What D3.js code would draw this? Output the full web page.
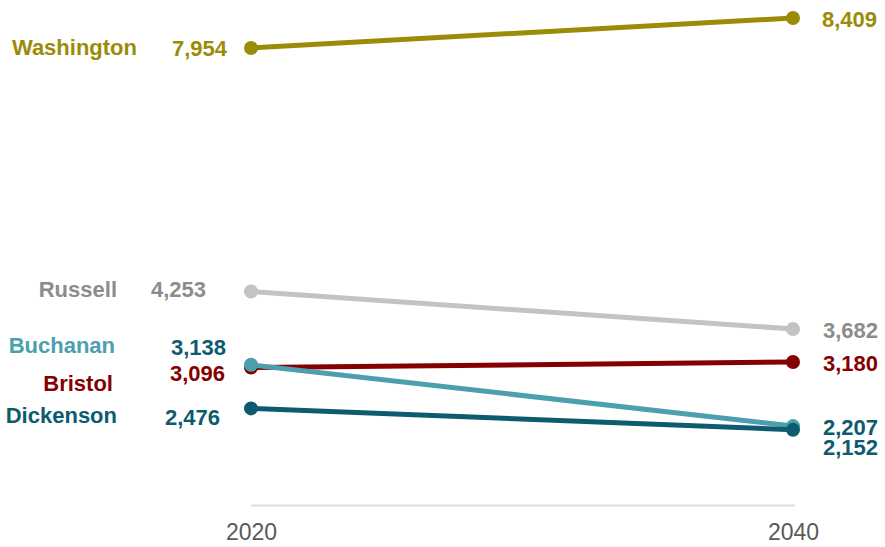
<!DOCTYPE html>
<html>
<head>
<meta charset="utf-8">
<script src="https://cdn.jsdelivr.net/npm/d3@7"></script>
<style>
  html, body { margin: 0; padding: 0; background: #fff; }
  svg { display: block; font-family: "Liberation Sans", Arial, sans-serif; }
</style>
</head>
<body>
<svg id="chart" width="885" height="547"></svg>
<script>
// ---- data ----
const years = ["2020", "2040"];
const counties = ["Russell", "Bristol", "Buchanan", "Dickenson", "Washington"];
const values2020 = [4253, 3096, 3138, 2476, 7954];
const values2040 = [3682, 3180, 2207, 2152, 8409];

// ---- styling ----
const lineColors  = { Russell: "#c3c3c3", Bristol: "#850000", Buchanan: "#4b9fae", Dickenson: "#0d5b6f", Washington: "#9a8c07" };
const nameColors  = { Russell: "#8c8c8c", Bristol: "#850000", Buchanan: "#4b9fae", Dickenson: "#0d5b6f", Washington: "#9a8c07" };
const valueColors = { Russell: "#8c8c8c", Bristol: "#850000", Buchanan: "#0d5b6f", Dickenson: "#0d5b6f", Washington: "#9a8c07" };
// label layout: [name dx, name baseline dy, left value dx, left value dy, right value dx, right value dy]
const labelLayout = {
  Washington: [-114, 7, -24, 8, 29, 9],
  Russell:    [-134, 6, -45, 6, 30, 9],
  Buchanan:   [-136, -11.5, -25, -9.5, 30, 9],
  Bristol:    [-138, 23, -26, 13, 30, 9],
  Dickenson:  [-134, 15, -31, 17, 30, 25]
};

const svg = d3.select("#chart");
const x = d3.scalePoint().domain(years).range([251, 793]);
const y = d3.scaleLinear().domain([1000, 8500]).range([505.5, 12]);

// baseline axis
svg.append("line")
  .attr("x1", x(years[0])).attr("x2", x(years[1]) + 2)
  .attr("y1", y(1000)).attr("y2", y(1000))
  .attr("stroke", "#dddddd").attr("stroke-width", 2);

const xAxis = svg.append("g")
  .attr("transform", `translate(0,${y(1000)})`)
  .call(d3.axisBottom(x).tickSize(0).tickPadding(22));
xAxis.select(".domain").remove();
xAxis.selectAll("text")
  .attr("font-family", "'Liberation Sans', Arial, sans-serif")
  .attr("font-size", 23)
  .attr("fill", "#595959")
  .attr("dy", "0.55em");

const fmt = d3.format(",");
const series = counties.map((c, i) => ({ name: c, v: [values2020[i], values2040[i]] }));

const g = svg.append("g");
series.forEach(s => {
  const grp = g.append("g");
  grp.append("line")
    .attr("x1", x(years[0])).attr("y1", y(s.v[0]))
    .attr("x2", x(years[1])).attr("y2", y(s.v[1]))
    .attr("stroke", lineColors[s.name]).attr("stroke-width", 5);
  grp.selectAll("circle").data(s.v).join("circle")
    .attr("cx", (d, i) => x(years[i]))
    .attr("cy", d => y(d))
    .attr("r", 7)
    .attr("fill", lineColors[s.name]);
});

const labels = svg.append("g").attr("font-weight", "bold").attr("font-size", 22);
series.forEach(s => {
  const L = labelLayout[s.name];
  labels.append("text")
    .attr("x", x(years[0]) + L[0]).attr("y", y(s.v[0]) + L[1])
    .attr("text-anchor", "end").attr("fill", nameColors[s.name])
    .text(s.name);
  labels.append("text")
    .attr("x", x(years[0]) + L[2]).attr("y", y(s.v[0]) + L[3])
    .attr("text-anchor", "end").attr("fill", valueColors[s.name])
    .text(fmt(s.v[0]));
  labels.append("text")
    .attr("x", x(years[1]) + L[4]).attr("y", y(s.v[1]) + L[5])
    .attr("text-anchor", "start").attr("fill", valueColors[s.name])
    .text(fmt(s.v[1]));
});
</script>
</body>
</html>
